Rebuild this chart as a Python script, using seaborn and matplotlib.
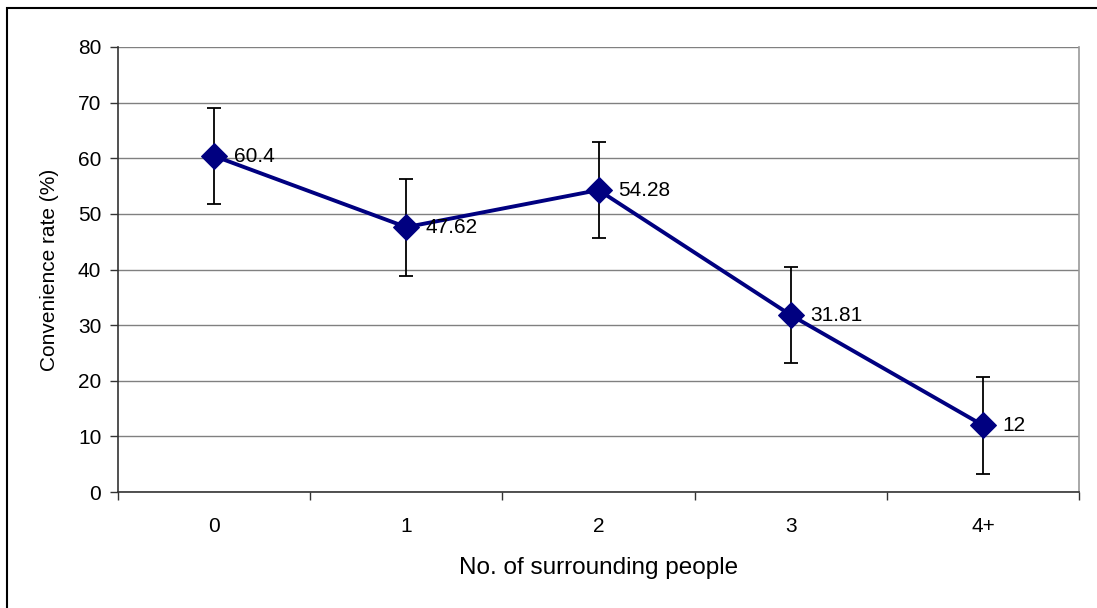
import matplotlib
matplotlib.use("Agg")
import matplotlib.pyplot as plt
import matplotlib.patches as mpatches
import numpy as np
import pandas as pd
import seaborn as sns

categories = ["0", "1", "2", "3", "4+"]
rates = [60.4, 47.62, 54.28, 31.81, 12]
errors = [8.7, 8.7, 8.7, 8.7, 8.7]
point_labels = ["60.4", "47.62", "54.28", "31.81", "12"]

sns.set_theme(style="white")
plt.rcParams["font.family"] = ["Liberation Sans", "DejaVu Sans"]
plt.rcParams.update({"text.color": "black", "axes.labelcolor": "black",
                     "xtick.color": "black", "ytick.color": "black"})

df = pd.DataFrame({"pos": np.arange(len(categories)), "rate": rates})

fig = plt.figure(figsize=(10.97, 6.08), dpi=100)
ax = fig.add_axes([118 / 1097, 1 - 492 / 608, (1079 - 118) / 1097, (492 - 47) / 608])

# outer chart frame
fig.patches.append(mpatches.Rectangle((7 / 1097, -0.01), 1.0, 1 - 8 / 608 + 0.01,
                                      transform=fig.transFigure, fill=False,
                                      edgecolor="black", linewidth=1.5))

ax.errorbar(df["pos"], df["rate"], yerr=errors, fmt="none", ecolor="black",
            elinewidth=1.3, capsize=5, capthick=1.3, zorder=2)
sns.lineplot(data=df, x="pos", y="rate", ax=ax, color="#000080", linewidth=2.8,
             marker="D", markersize=13, markeredgecolor="#000080", zorder=3)

for x, y, t in zip(df["pos"], rates, point_labels):
    ax.annotate(t, (x, y), xytext=(14, 0), textcoords="offset points",
                ha="left", va="center", fontsize=15, color="black", zorder=4)

ax.set_xlim(-0.5, len(categories) - 0.5)
ax.set_ylim(0, 80)
ax.set_yticks(range(0, 81, 10))
ax.set_xticks(df["pos"])
ax.set_xticklabels(categories)
ax.set_xticks(np.arange(-0.5, len(categories)), minor=True)
ax.tick_params(axis="x", which="major", length=0, pad=18, labelsize=15)
ax.tick_params(axis="x", which="minor", length=6, width=1, color="#333333", direction="out", bottom=True)
ax.tick_params(axis="y", length=6, width=1, color="#333333", direction="out", left=True, pad=6, labelsize=15)

ax.grid(axis="y", color="#808080", linewidth=1)
ax.set_axisbelow(True)
for side in ["left", "bottom"]:
    ax.spines[side].set_color("#333333")
    ax.spines[side].set_linewidth(1.2)
ax.spines["top"].set_visible(False)
ax.spines["right"].set_color("#999999")
ax.spines["right"].set_linewidth(1.2)

ax.set_xlabel("No. of surrounding people", fontsize=17.5, labelpad=15)
ax.set_ylabel("Convenience rate (%)", fontsize=15, labelpad=14)

fig.savefig("out.png", dpi=100)
